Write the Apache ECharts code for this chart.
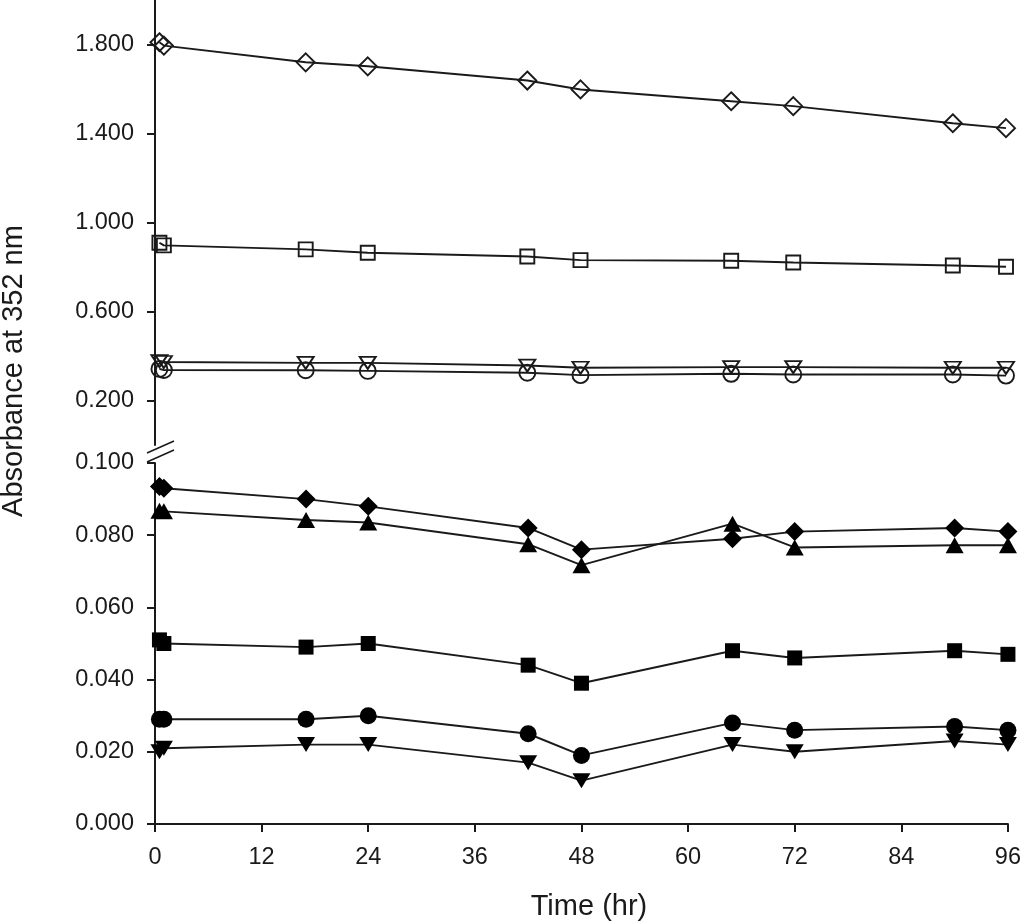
<!DOCTYPE html>
<html>
<head>
<meta charset="utf-8">
<script src="https://cdn.jsdelivr.net/npm/echarts@6/dist/echarts.min.js"></script>
<style>
  html, body { margin: 0; padding: 0; background: #fff; }
  #chart { width: 1024px; height: 924px; }
</style>
</head>
<body>
<div id="chart"></div>
<script>
// ---- data ----
const hours = [0.5, 1, 17, 24, 42, 48, 65, 72, 90, 96];
const xTicks = [0, 12, 24, 36, 48, 60, 72, 84, 96];
const upperTicks = [0.2, 0.6, 1.0, 1.4, 1.8];
const lowerTicks = [0, 0.02, 0.04, 0.06, 0.08, 0.1];

// upper panel (open symbols)
const openDiamond  = [1.810, 1.795, 1.720, 1.702, 1.638, 1.598, 1.545, 1.523, 1.446, 1.424];
const openSquare   = [0.909, 0.897, 0.879, 0.864, 0.847, 0.831, 0.828, 0.820, 0.807, 0.801];
const openTriDown  = [0.377, 0.373, 0.369, 0.369, 0.357, 0.347, 0.350, 0.350, 0.347, 0.347];
const openCircle   = [0.342, 0.337, 0.336, 0.333, 0.325, 0.314, 0.320, 0.317, 0.317, 0.312];

// lower panel (filled symbols)
const filledDiamond = [0.0935, 0.093, 0.090, 0.088, 0.082, 0.076, 0.079, 0.081, 0.082, 0.081];
const filledTriUp   = [0.0868, 0.0866, 0.0842, 0.0835, 0.0775, 0.0717, 0.0832, 0.0766, 0.0772, 0.0772];
const filledSquare  = [0.051, 0.050, 0.049, 0.050, 0.044, 0.039, 0.048, 0.046, 0.048, 0.047];
const filledCircle  = [0.029, 0.029, 0.029, 0.030, 0.025, 0.019, 0.028, 0.026, 0.027, 0.026];
const filledTriDown = [0.020, 0.021, 0.022, 0.022, 0.017, 0.012, 0.022, 0.020, 0.023, 0.022];

const FONT = '"Liberation Sans", Arial, sans-serif';
const INK = '#1a1a1a';

const pairs = vals => hours.map((h, i) => [h, vals[i]]);

function mkSeries(name, vals, panel, symbol, size, filled, rotate) {
  return {
    name, type: 'line',
    xAxisIndex: panel, yAxisIndex: panel,
    data: pairs(vals),
    symbol, symbolSize: size, symbolRotate: rotate || 0,
    showAllSymbol: true,
    lineStyle: { color: INK, width: 1.9 },
    itemStyle: filled
      ? { color: '#000', borderColor: '#000', borderWidth: 0 }
      : { color: 'rgba(0,0,0,0)', borderColor: INK, borderWidth: 1.9 },
    emphasis: { disabled: true },
    animation: false,
    z: filled ? 3 : 2
  };
}

const axisCommon = {
  axisLine: { show: true, onZero: false, lineStyle: { color: INK, width: 2 } },
  axisTick: { show: true, inside: false, length: 8, lineStyle: { color: INK, width: 2 } },
  splitLine: { show: false },
  axisLabel: { color: INK, fontFamily: FONT, fontSize: 23.5 }
};

const chart = echarts.init(document.getElementById('chart'), null, { renderer: 'canvas' });

const option = {
  backgroundColor: '#fff',
  animation: false,
  grid: [
    { left: 155, right: 18, top: 0, bottom: 479 },
    { left: 155, right: 12, top: 463, bottom: 100 }
  ],
  xAxis: [
    { type: 'value', gridIndex: 0, min: 0, max: 96, show: false },
    Object.assign({}, axisCommon, {
      type: 'value', gridIndex: 1, min: 0, max: 96, interval: 12,
      axisLabel: Object.assign({}, axisCommon.axisLabel, { margin: 22, customValues: xTicks }),
      axisTick: Object.assign({}, axisCommon.axisTick, { customValues: xTicks }),
      name: 'Time (hr)', nameLocation: 'middle', nameGap: 68,
      nameTextStyle: { color: INK, fontFamily: FONT, fontSize: 29, padding: [0, 0, 0, 15] }
    })
  ],
  yAxis: [
    Object.assign({}, axisCommon, {
      type: 'value', gridIndex: 0, min: 0, max: 2.0, interval: 0.2,
      axisLabel: Object.assign({}, axisCommon.axisLabel, {
        margin: 21, customValues: upperTicks,
        formatter: v => v.toFixed(3)
      }),
      axisTick: Object.assign({}, axisCommon.axisTick, { customValues: upperTicks })
    }),
    Object.assign({}, axisCommon, {
      type: 'value', gridIndex: 1, min: 0, max: 0.1, interval: 0.02,
      axisLabel: Object.assign({}, axisCommon.axisLabel, {
        margin: 21, customValues: lowerTicks,
        formatter: v => v.toFixed(3)
      }),
      axisTick: Object.assign({}, axisCommon.axisTick, { customValues: lowerTicks })
    })
  ],
  graphic: [
    { type: 'line', shape: { x1: 147, y1: 453, x2: 174, y2: 441 },
      style: { stroke: INK, lineWidth: 1.6 }, z: 100 },
    { type: 'line', shape: { x1: 147, y1: 462, x2: 174, y2: 450 },
      style: { stroke: INK, lineWidth: 1.6 }, z: 100 },
    { type: 'text', x: 14, y: 371, rotation: Math.PI / 2,
      style: { text: 'Absorbance at 352 nm', font: '29px ' + FONT, fill: INK,
               textAlign: 'center', textVerticalAlign: 'middle' } }
  ],
  series: [
    mkSeries('open diamond', openDiamond, 0, 'diamond', 18, false),
    mkSeries('open square', openSquare, 0, 'rect', 14, false),
    mkSeries('open triangle down', openTriDown, 0, 'triangle', [16, 12], false, 180),
    mkSeries('open circle', openCircle, 0, 'circle', 16, false),
    mkSeries('filled diamond', filledDiamond, 1, 'diamond', 19, true),
    mkSeries('filled triangle up', filledTriUp, 1, 'triangle', [18, 16], true),
    mkSeries('filled square', filledSquare, 1, 'rect', 15, true),
    mkSeries('filled circle', filledCircle, 1, 'circle', 17, true),
    mkSeries('filled triangle down', filledTriDown, 1, 'triangle', [18, 15], true, 180)
  ]
};

chart.setOption(option);
</script>
</body>
</html>
